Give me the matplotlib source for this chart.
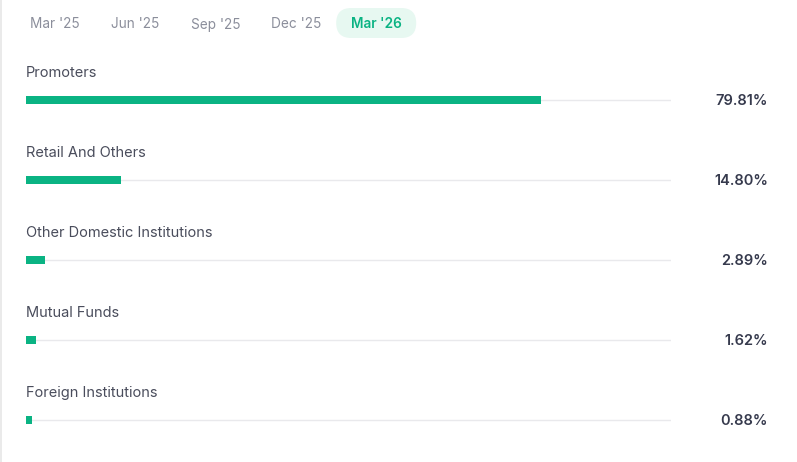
import matplotlib
matplotlib.use('Agg')
import matplotlib.pyplot as plt
from matplotlib.patches import FancyBboxPatch

# data
categories = ['Promoters', 'Retail And Others', 'Other Domestic Institutions',
              'Mutual Funds', 'Foreign Institutions']
holdings = [79.81, 14.80, 2.89, 1.62, 0.88]
quarters = ["Mar '25", "Jun '25", "Sep '25", "Dec '25", "Mar '26"]
active_quarter = "Mar '26"

GREEN = '#0ab383'
W, H = 797, 462

plt.rcParams['font.family'] = ['Inter', 'DejaVu Sans']

fig = plt.figure(figsize=(W / 100, H / 100), dpi=100)
fig.patch.set_facecolor('white')

# canvas in pixel coords for text / tabs
ax = fig.add_axes([0, 0, 1, 1])
ax.set_xlim(0, W)
ax.set_ylim(H, 0)
ax.axis('off')

# left border
ax.plot([1, 1], [0, H], color='#e6e6e6', lw=1.2)

# quarter tabs
for i, q in enumerate(quarters):
    cx = 55 + i * 80.3
    if q == active_quarter:
        pill = FancyBboxPatch((cx - 40 + 15, 8 + 15), 80 - 30, 30 - 30,
                              boxstyle='round,pad=15', fc='#e7f8f1', ec='none')
        ax.add_patch(pill)
        ax.text(cx, 24.5, q, ha='center', va='center', fontsize=9.8,
                color=GREEN, fontweight='semibold')
    else:
        ax.text(cx, 24.5, q, ha='center', va='center', fontsize=9.8,
                color='#8b8e9b')

# bars axes: x in percent, y in pixel rows
bx = fig.add_axes([26 / W, 0, 645 / W, 1])
bx.set_xlim(0, 100)
bx.set_ylim(H, 0)
bx.axis('off')

row_y = [100 + 80 * i for i in range(len(categories))]
for y, name, v in zip(row_y, categories, holdings):
    bx.plot([0, 100], [y, y], color='#e9e9ec', lw=1, zorder=1)
    bx.barh(y, v, height=8, color=GREEN, zorder=2)
    ax.text(26, y - 27, name, ha='left', va='center', fontsize=10.5,
            color='#4a4d5c')
    ax.text(768, y + 1, f'{v:.2f}%', ha='right', va='center', fontsize=10.5,
            color='#363a4d', fontweight='semibold')

fig.savefig('out.png', dpi=100)
